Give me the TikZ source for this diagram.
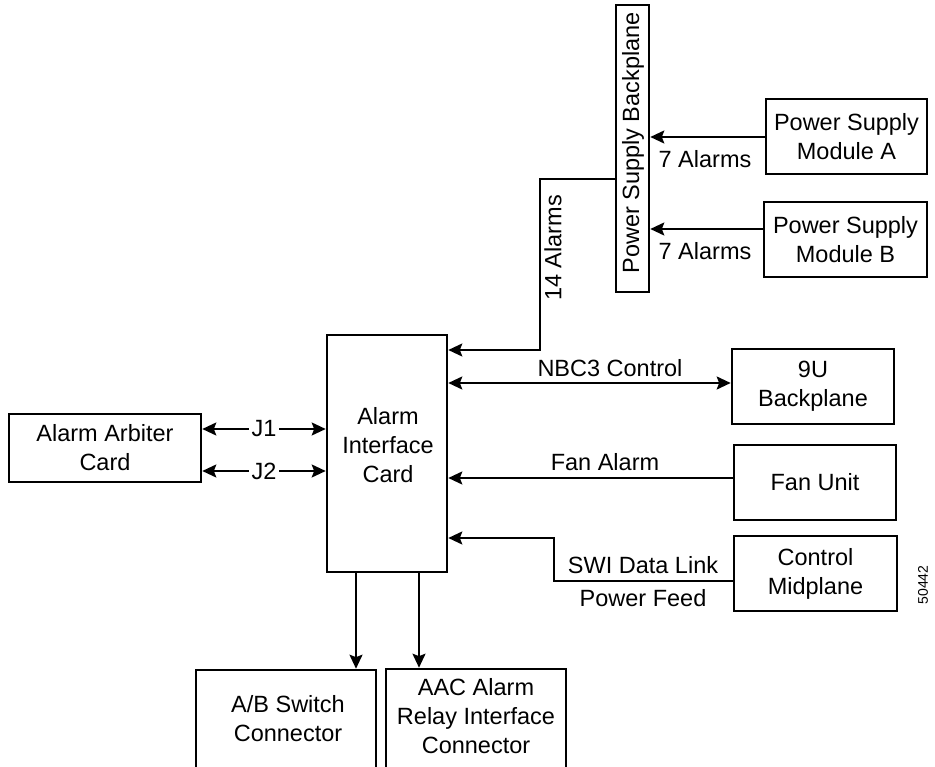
\documentclass[tikz,border=0pt]{standalone}
\usepackage{fontspec}
\setmainfont{Liberation Sans}
\usetikzlibrary{arrows.meta}
\begin{document}
\begin{tikzpicture}[x=1pt,y=-1pt,
  box/.style={draw, line width=2.6pt, inner sep=0pt, align=center, font=\fontsize{23.5}{29}\selectfont},
  lbl/.style={inner sep=0pt, align=center, font=\fontsize{23.5}{29}\selectfont},
  conn/.style={line width=2pt, -{Stealth[length=14pt,width=13pt,inset=2.5pt]}},
  dconn/.style={line width=2pt, {Stealth[length=14pt,width=13pt,inset=2.5pt]}-{Stealth[length=14pt,width=13pt,inset=2.5pt]}},
  jlbl/.style={lbl, fill=white, inner xsep=3pt, inner ysep=1pt}]
\clip (0,0) rectangle (935,767);

% boxes
\node[box, minimum width=33pt, minimum height=287pt] (psb) at (632.5,148.5) {};
\node[lbl, rotate=90] (psbt) at (633,143) {Power Supply Backplane};
\node[box, minimum width=161pt, minimum height=75pt] (psa) at (846.5,136.5) {Power Supply\\Module A};
\node[box, minimum width=163pt, minimum height=75pt] (psbm) at (845.5,239.5) {Power Supply\\Module B};
\node[box, minimum width=120pt, minimum height=237pt] (aic) at (387,453.5) {};
\node[lbl] (aict) at (388,445) {Alarm\\Interface\\Card};
\node[box, minimum width=192pt, minimum height=68pt] (arb) at (105,448) {Alarm Arbiter\\Card};
\node[box, minimum width=162pt, minimum height=75pt] (u9) at (813,386.5) {9U\\Backplane};
\node[box, minimum width=162pt, minimum height=75pt] (fan) at (815,482.5) {Fan Unit};
\node[box, minimum width=163pt, minimum height=75pt] (ctl) at (815.5,573.5) {Control\\Midplane};
\node[box, minimum width=180pt, minimum height=120pt] (ab) at (286,730) {};
\node[lbl] (abt) at (288,719) {A/B Switch\\Connector};
\node[box, minimum width=180pt, minimum height=120pt] (aac) at (476,729) {};
\node[lbl] (aact) at (476,716) {AAC Alarm\\Relay Interface\\Connector};

% coordinates
\coordinate (yA) at (0,137);
\coordinate (yB) at (0,229);
\coordinate (c14a) at (540,179);
\coordinate (c14b) at (540,350);
\coordinate (yN) at (0,383);
\coordinate (yF) at (0,478);
\coordinate (s1) at (554,581);
\coordinate (s2) at (554,538);
\coordinate (yJ1) at (0,429);
\coordinate (yJ2) at (0,471);
\coordinate (xd1) at (356,0);
\coordinate (xd2) at (419,0);

% connectors
\draw[conn] (psa.west |- yA) -- (psb.east |- yA);
\draw[conn] (psbm.west |- yB) -- (psb.east |- yB);
\node[lbl] (l7a) at (705,159) {7 Alarms};
\node[lbl] (l7b) at (705,251) {7 Alarms};

\draw[conn] (psb.west |- c14a) -- (c14a) -- (c14b) -- (aic.east |- c14b);
\node[lbl, rotate=90] (l14) at (553,248) {14 Alarms};

\draw[dconn] (aic.east |- yN) -- (u9.west |- yN);
\node[lbl] (lnbc) at (610,368) {NBC3 Control};

\draw[conn] (fan.west |- yF) -- (aic.east |- yF);
\node[lbl] (lfan) at (605,462) {Fan Alarm};

\draw[conn] (ctl.west |- s1) -- (s1) -- (s2) -- (aic.east |- s2);
\node[lbl] (lswi) at (643,565) {SWI Data Link};
\node[lbl] (lpf) at (643,598) {Power Feed};

\draw[dconn] (arb.east |- yJ1) -- (aic.west |- yJ1);
\draw[dconn] (arb.east |- yJ2) -- (aic.west |- yJ2);
\node[jlbl] (lj1) at (264,429) {J1};
\node[jlbl] (lj2) at (264,471) {J2};

\draw[conn] (aic.south -| xd1) -- (ab.north -| xd1);
\draw[conn] (aic.south -| xd2) -- (aac.north -| xd2);

\node[inner sep=0pt, rotate=90, font=\fontsize{14}{16}\selectfont] (fig) at (923,585) {50442};
\end{tikzpicture}
\end{document}
